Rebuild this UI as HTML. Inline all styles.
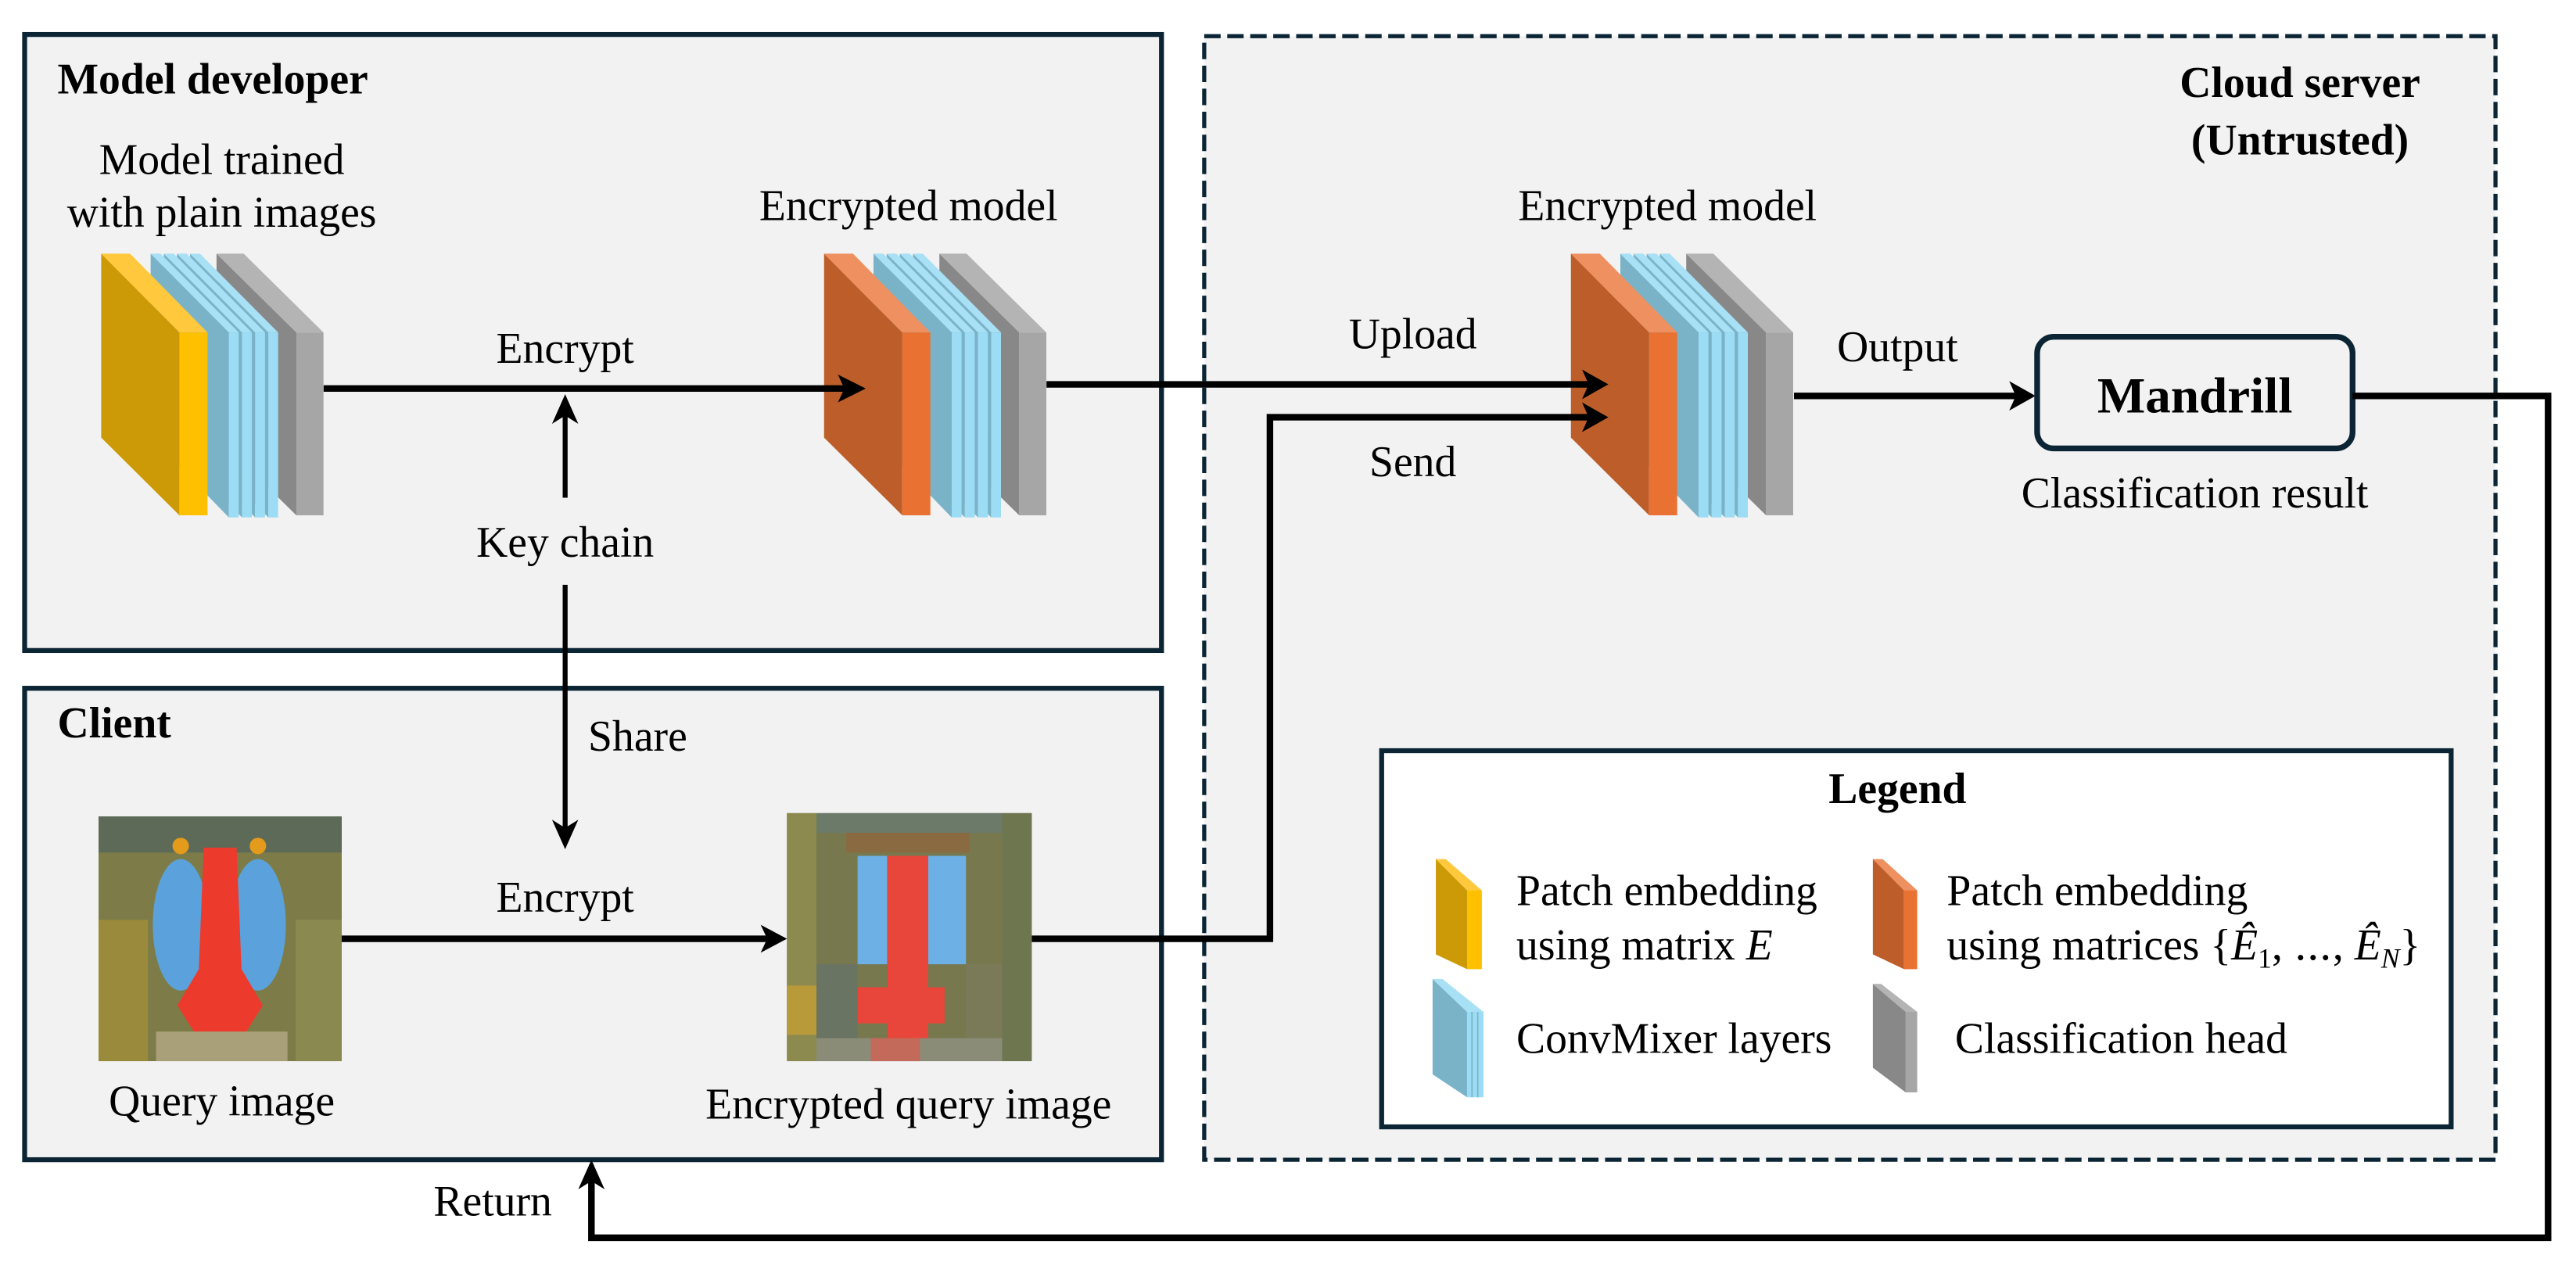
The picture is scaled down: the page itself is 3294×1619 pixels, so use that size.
<!DOCTYPE html>
<html><head><meta charset="utf-8"><style>
html,body{margin:0;padding:0;background:#fff;}
svg{display:block;}
text{font-family:"Liberation Serif","Times New Roman",Times,"Noto Serif CJK SC","DejaVu Serif",serif;font-size:26.5px;fill:#000;}
.b{font-weight:bold;}
</style></head><body>
<svg width="3294" height="1619" viewBox="0 0 1568 770.7" preserveAspectRatio="none" xmlns="http://www.w3.org/2000/svg" font-family="Liberation Serif, Times New Roman, Noto Serif CJK SC, DejaVu Serif, serif">
<defs>
<g id="stackY">
 <polygon points="131.8,154.4 180.4,202.4 180.4,313.7 131.8,266" fill="#888"/>
 <polygon points="131.8,154.4 148.3,154.4 196.9,202.4 180.4,202.4" fill="#b4b4b4"/>
 <rect x="180.4" y="202.4" width="16.5" height="111.3" fill="#a6a6a6"/>
 <polygon points="115.7,154.4 163.3,202.4 163.3,315 115.7,266" fill="#7ab3c8"/>
 <polygon points="115.7,154.4 121.7,154.4 169.3,202.4 163.3,202.4" fill="#a8e0f5"/>
 <rect x="163.3" y="202.4" width="6" height="112.6" fill="#9ddcf5"/>
 <polygon points="107.7,154.4 155.3,202.4 155.3,315 107.7,266" fill="#7ab3c8"/>
 <polygon points="107.7,154.4 113.7,154.4 161.3,202.4 155.3,202.4" fill="#a8e0f5"/>
 <rect x="155.3" y="202.4" width="6" height="112.6" fill="#9ddcf5"/>
 <polygon points="99.7,154.4 147.3,202.4 147.3,315 99.7,266" fill="#7ab3c8"/>
 <polygon points="99.7,154.4 105.7,154.4 153.3,202.4 147.3,202.4" fill="#a8e0f5"/>
 <rect x="147.3" y="202.4" width="6" height="112.6" fill="#9ddcf5"/>
 <polygon points="91.7,154.4 139.3,202.4 139.3,315 91.7,266" fill="#7ab3c8"/>
 <polygon points="91.7,154.4 97.7,154.4 145.3,202.4 139.3,202.4" fill="#a8e0f5"/>
 <rect x="139.3" y="202.4" width="6" height="112.6" fill="#9ddcf5"/>
</g>
</defs>

<rect x="15" y="21" width="692" height="375" fill="#f2f2f2" stroke="#0b2535" stroke-width="3"/>
<rect x="15" y="419" width="692" height="287" fill="#f2f2f2" stroke="#0b2535" stroke-width="3"/>
<rect x="733" y="22" width="786" height="684" fill="#f2f2f2" stroke="#0b2535" stroke-width="2.5" stroke-dasharray="10 4"/>
<rect x="841" y="457" width="651" height="229" fill="#fff" stroke="#0b2535" stroke-width="3"/>

<use href="#stackY"/>
<polygon points="61.6,154.4 109.2,202.4 109.2,313.7 61.6,266.4" fill="#cc9a06"/>
<polygon points="61.6,154.4 79.2,154.4 126.3,202.4 109.2,202.4" fill="#ffc83d"/>
<rect x="109.2" y="202.4" width="17.1" height="111.3" fill="#ffc000"/>

<g transform="translate(440,0)">
<use href="#stackY"/>
<polygon points="61.6,154.4 109.2,202.4 109.2,313.7 61.6,266.4" fill="#bd5e2a"/>
<polygon points="61.6,154.4 79.2,154.4 126.3,202.4 109.2,202.4" fill="#ee9060"/>
<rect x="109.2" y="202.4" width="17.1" height="111.3" fill="#e97132"/>
</g>
<g transform="translate(894.6,0)">
<use href="#stackY"/>
<polygon points="61.6,154.4 109.2,202.4 109.2,313.7 61.6,266.4" fill="#bd5e2a"/>
<polygon points="61.6,154.4 79.2,154.4 126.3,202.4 109.2,202.4" fill="#ee9060"/>
<rect x="109.2" y="202.4" width="17.1" height="111.3" fill="#e97132"/>
</g>

<text x="35" y="57" class="b">Model developer</text>
<text x="135" y="106" text-anchor="middle">Model trained</text>
<text x="135" y="138" text-anchor="middle">with plain images</text>
<text x="553" y="134" text-anchor="middle">Encrypted model</text>
<text x="344" y="221" text-anchor="middle">Encrypt</text>
<text x="344" y="339" text-anchor="middle">Key chain</text>

<line x1="197" y1="236.5" x2="520" y2="236.5" stroke="#000" stroke-width="4"/>
<polygon points="527,236.5 510,228 514,236.5 510,245" fill="#000"/>
<line x1="344" y1="303" x2="344" y2="250" stroke="#000" stroke-width="3"/>
<polygon points="344,240 336,258 344,253 352,258" fill="#000"/>
<line x1="344" y1="356" x2="344" y2="508" stroke="#000" stroke-width="3"/>
<polygon points="344,517 336,499 344,504 352,499" fill="#000"/>
<text x="358" y="457">Share</text>

<text x="1400" y="59" class="b" text-anchor="middle">Cloud server</text>
<text x="1400" y="94" class="b" text-anchor="middle">(Untrusted)</text>
<text x="1015" y="134" text-anchor="middle">Encrypted model</text>
<text x="860" y="212" text-anchor="middle">Upload</text>
<text x="860" y="290" text-anchor="middle">Send</text>
<text x="1155" y="220" text-anchor="middle">Output</text>

<polyline points="637,234 970,234" fill="none" stroke="#000" stroke-width="4"/>
<polygon points="979,234 963,225 967,234 963,243" fill="#000"/>
<polyline points="628,571.5 773,571.5 773,254 970,254" fill="none" stroke="#000" stroke-width="4"/>
<polygon points="979,254 963,245 967,254 963,263" fill="#000"/>
<line x1="1092" y1="241" x2="1230" y2="241" stroke="#000" stroke-width="4"/>
<polygon points="1239,241 1223,232 1227,241 1223,250" fill="#000"/>

<rect x="1240" y="205" width="192" height="68" rx="10" fill="#f2f2f2" stroke="#0b2535" stroke-width="3.5"/>
<text x="1336" y="251" class="b" text-anchor="middle" style="font-size:31px">Mandrill</text>
<text x="1336" y="309" text-anchor="middle">Classification result</text>

<polyline points="1432,241 1551,241 1551,753.5 360,753.5 360,716" fill="none" stroke="#000" stroke-width="4"/>
<polygon points="360,706 352,724 360,719 368,724" fill="#000"/>
<text x="336" y="740" text-anchor="end">Return</text>

<text x="35" y="449" class="b">Client</text>
<g>
 <rect x="60" y="497" width="148" height="149" fill="#7d7c48"/>
 <rect x="60" y="560" width="30" height="86" fill="#9a8a3c"/>
 <rect x="180" y="560" width="28" height="86" fill="#8a8a50"/>
 <rect x="60" y="497" width="148" height="22" fill="#5e6a58"/>
 <ellipse cx="110" cy="563" rx="17" ry="40" fill="#5ba2dc"/>
 <ellipse cx="157" cy="563" rx="17" ry="40" fill="#5ba2dc"/>
 <path d="M124,516 L144,516 L147,590 L160,612 L150,628 L118,628 L108,612 L121,590 Z" fill="#ec3a2c"/>
 <circle cx="110" cy="515" r="5" fill="#e49a1a"/>
 <circle cx="157" cy="515" r="5" fill="#e49a1a"/>
 <rect x="95" y="628" width="80" height="18" fill="#a9a07a"/>
</g>
<text x="135" y="679" text-anchor="middle">Query image</text>
<text x="344" y="555" text-anchor="middle">Encrypt</text>
<line x1="208" y1="571.5" x2="470" y2="571.5" stroke="#000" stroke-width="4"/>
<polygon points="479,571.5 463,563 467,571.5 463,580" fill="#000"/>

<g>
 <rect x="479" y="495" width="149" height="151" fill="#77784e"/>
 <rect x="479" y="495" width="18" height="151" fill="#8c8a4e"/>
 <rect x="479" y="600" width="18" height="30" fill="#b89a3a"/>
 <rect x="610" y="495" width="18" height="151" fill="#6e7650"/>
 <rect x="497" y="495" width="113" height="12" fill="#6c7a6a"/>
 <rect x="515" y="507" width="75" height="12" fill="#8a6a40"/>
 <rect x="522" y="521" width="18" height="66" fill="#6cb0e6"/>
 <rect x="565" y="521" width="23" height="66" fill="#6cb0e6"/>
 <rect x="540" y="521" width="25" height="112" fill="#e8463a"/>
 <rect x="522" y="601" width="53" height="22" fill="#e8463a"/>
 <rect x="497" y="587" width="25" height="45" fill="#6a7462"/>
 <rect x="588" y="587" width="22" height="45" fill="#7a7a58"/>
 <rect x="497" y="632" width="113" height="14" fill="#8a8c78"/>
 <rect x="530" y="632" width="30" height="14" fill="#c46a5a"/>
</g>
<text x="553" y="681" text-anchor="middle">Encrypted query image</text>

<text x="1155" y="489" class="b" text-anchor="middle">Legend</text>
<polygon points="874,523 893,542 893,590 874,581" fill="#cc9a06"/>
<polygon points="874,523 880,523 902,542 893,542" fill="#ffc83d"/>
<rect x="893" y="542" width="9" height="48" fill="#ffc000"/>
<polygon points="1140,523 1159,542 1159,590 1140,581" fill="#bd5e2a"/>
<polygon points="1140,523 1146,523 1167,542 1159,542" fill="#ee9060"/>
<rect x="1159" y="542" width="8" height="48" fill="#e97132"/>
<polygon points="872,596 893,616 893,668 872,654" fill="#7ab3c8"/>
<polygon points="872,596 878,596 903,616 893,616" fill="#a8e0f5"/>
<rect x="893" y="616" width="10" height="52" fill="#9ddcf5"/>
<line x1="896" y1="616" x2="896" y2="668" stroke="#7ab3c8" stroke-width="0.8"/>
<line x1="899.5" y1="616" x2="899.5" y2="668" stroke="#7ab3c8" stroke-width="0.8"/>
<polygon points="1140,599 1160,616 1160,665 1140,650" fill="#888"/>
<polygon points="1140,599 1145,599 1167,616 1160,616" fill="#b4b4b4"/>
<rect x="1160" y="616" width="7" height="49" fill="#a6a6a6"/>

<text x="923" y="551">Patch embedding</text>
<text x="923" y="584">using matrix <tspan font-style="italic">E</tspan></text>
<text x="1185" y="551">Patch embedding</text>
<text x="1185" y="584">using matrices {<tspan font-style="italic">Ê</tspan><tspan style="font-size:17px" dy="5">1</tspan><tspan dy="-5">, ⋯, </tspan><tspan font-style="italic">Ê</tspan><tspan font-style="italic" style="font-size:17px" dy="5">N</tspan><tspan dy="-5">}</tspan></text>
<text x="923" y="641">ConvMixer layers</text>
<text x="1190" y="641">Classification head</text>
</svg>
</body></html>
